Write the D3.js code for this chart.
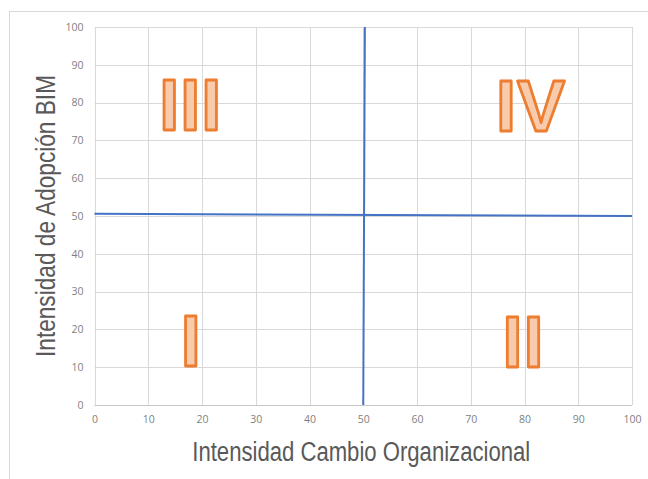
<!DOCTYPE html>
<html>
<head>
<meta charset="utf-8">
<script src="https://cdn.jsdelivr.net/npm/d3@7"></script>
<style>
  html, body { margin: 0; padding: 0; background: #ffffff; }
  svg { display: block; }
</style>
</head>
<body>
<script>
// Quadrant chart: organizational change vs. BIM adoption
const xTicks = [0, 10, 20, 30, 40, 50, 60, 70, 80, 90, 100];
const yTicks = [0, 10, 20, 30, 40, 50, 60, 70, 80, 90, 100];

// Quadrant dividers (data coordinates of the end points)
const verticalDivider = [[50.3, 100], [50, 0]];
const horizontalDivider = [[0, 50.6], [100, 50]];

// Quadrant labels: numeral, centre x, baseline y
const quadrantNames = ["I", "II", "III", "IV"];
const quadrantX = [18, 79.8, 17.9, 81.2];
const quadrantY = [10.2, 10, 72.7, 72.5];

const xTitle = "Intensidad Cambio Organizacional";
const yTitle = "Intensidad de Adopción BIM";

const W = 648, H = 479;
const svg = d3.select("body").append("svg").attr("width", W).attr("height", H);

// chart frame
svg.append("rect")
  .attr("x", 9.5).attr("y", 11.5)
  .attr("width", W + 20).attr("height", H + 20)
  .attr("fill", "none").attr("stroke", "#d9d9d9").attr("stroke-width", 1);

const x = d3.scaleLinear().domain([0, 100]).range([94.5, 632]);
const y = d3.scaleLinear().domain([0, 100]).range([405, 27]);

// gridlines
const grid = svg.append("g");
grid.selectAll("line.v").data(xTicks).join("line")
  .attr("class", "v")
  .attr("x1", d => Math.round(x(d)) + 0.5).attr("x2", d => Math.round(x(d)) + 0.5)
  .attr("y1", y(0)).attr("y2", y(100))
  .attr("stroke", "#d9d9d9").attr("stroke-width", 1);
grid.selectAll("line.h").data(yTicks).join("line")
  .attr("class", "h")
  .attr("y1", d => Math.round(y(d)) + 0.5).attr("y2", d => Math.round(y(d)) + 0.5)
  .attr("x1", x(0)).attr("x2", x(100))
  .attr("stroke", d => d === 0 ? "#c8c8c8" : "#d9d9d9").attr("stroke-width", 1);

// axes (labels only)
const xAxis = svg.append("g")
  .attr("transform", `translate(0,${y(0)})`)
  .call(d3.axisBottom(x).tickValues(xTicks).tickSize(0).tickPadding(11));
const yAxis = svg.append("g")
  .attr("transform", `translate(${x(0)},0)`)
  .call(d3.axisLeft(y).tickValues(yTicks).tickSize(0).tickPadding(11));
[xAxis, yAxis].forEach(a => {
  a.select(".domain").remove();
  a.selectAll("text")
    .attr("fill", "#7f7f7f")
    .style("font-family", "'Open Sans', 'DejaVu Sans', sans-serif")
    .style("font-size", "10.5px");
});

// quadrant dividers
const line = d3.line().x(d => x(d[0])).y(d => y(d[1]));
[verticalDivider, horizontalDivider].forEach(seg => {
  svg.append("path")
    .attr("d", line(seg))
    .attr("fill", "none")
    .attr("stroke", "#4472c4")
    .attr("stroke-width", 2);
});

// quadrant numerals
svg.append("g").selectAll("text")
  .data(quadrantNames)
  .join("text")
  .attr("x", (d, i) => x(quadrantX[i]))
  .attr("y", (d, i) => y(quadrantY[i]))
  .attr("text-anchor", "middle")
  .style("font-family", "'Liberation Sans', Arial, sans-serif")
  .style("font-weight", "bold")
  .style("font-size", "72px")
  .style("letter-spacing", "1px")
  .attr("fill", "#f8cbad")
  .attr("stroke", "#ed7d31")
  .attr("stroke-width", 2.8)
  .attr("stroke-linejoin", "round")
  .text(d => d);

// axis titles
svg.append("text")
  .attr("x", (x(0) + x(100)) / 2 - 2)
  .attr("y", 461)
  .attr("text-anchor", "middle")
  .attr("textLength", 338)
  .attr("lengthAdjust", "spacingAndGlyphs")
  .attr("fill", "#595959")
  .style("font-family", "'Liberation Sans Narrow', 'Liberation Sans', sans-serif")
  .style("font-size", "27px")
  .text(xTitle);

svg.append("text")
  .attr("transform", `translate(55,${(75 + 357) / 2}) rotate(-90)`)
  .attr("text-anchor", "middle")
  .attr("textLength", 282)
  .attr("lengthAdjust", "spacingAndGlyphs")
  .attr("fill", "#595959")
  .style("font-family", "'Liberation Sans Narrow', 'Liberation Sans', sans-serif")
  .style("font-size", "27px")
  .text(yTitle);
</script>
</body>
</html>
